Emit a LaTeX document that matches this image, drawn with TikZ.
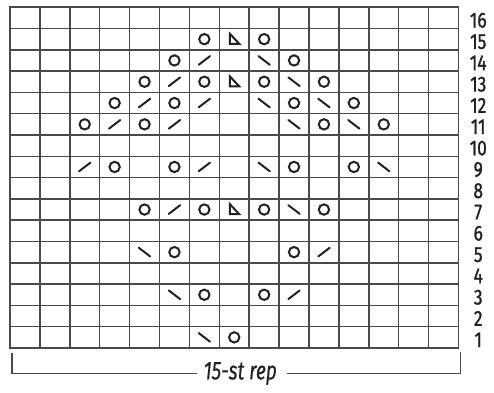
\documentclass[tikz,border=0pt]{standalone}
\usepackage{fontspec}
\newfontfamily\chartfont{Fira Sans}[FakeStretch=0.8,FakeBold=1.2]
\newfontfamily\repfont{Fira Sans}[FakeStretch=0.74,FakeBold=0.4]
\usetikzlibrary{positioning}

\definecolor{gridgray}{HTML}{4A4A4A}
\definecolor{inkblack}{HTML}{222222}

\tikzset{
  gridline/.style={gridgray,line width=0.045cm},
  symbol/.style={inkblack,line width=0.06cm,line cap=round},
  rowlabel/.style={font=\chartfont\fontsize{18.5}{18.5}\selectfont,inner sep=0pt,
    text height=13pt,text depth=0pt,text=inkblack},
  replabel/.style={font=\repfont\itshape\fontsize{22}{22}\selectfont,inner sep=0pt,text=inkblack},
  yo/.pic={\draw[symbol] (0,0) circle[radius=0.155cm];},
  ktog/.pic={\draw[symbol] (-0.17cm,-0.13cm) -- (0.17cm,0.13cm);},
  ssk/.pic={\draw[symbol] (-0.17cm,0.13cm) -- (0.17cm,-0.13cm);},
  sktwop/.pic={\draw[symbol,line join=miter] (-0.13cm,0.16cm) -- (-0.13cm,-0.14cm) -- (0.15cm,-0.14cm) -- cycle;}
}

\begin{document}
\begin{tikzpicture}[x=0.897cm,y=0.639cm]
\useasboundingbox (-0.334,-2.066) rectangle (16.187,16.338);

% chart grid
\foreach \c in {1,...,14} \draw[gridline] (\c,0) -- (\c,16);
\foreach \r in {1,...,15} \draw[gridline] (0,\r) -- (15,\r);
\draw[gridline] (0,0) rectangle (15,16);

% row numbers
\foreach \r in {1,...,16}
  \node[rowlabel] (row\r) at (15.66,\r-0.6) {\r};

% yarn overs
\foreach \c/\r in {7/15,9/15, 6/14,10/14, 5/13,7/13,9/13,11/13,
                   4/12,6/12,10/12,12/12, 3/11,5/11,11/11,13/11,
                   4/9,6/9,10/9,12/9, 5/7,7/7,9/7,11/7,
                   6/5,10/5, 7/3,9/3, 8/1}
  \pic at (\c-0.5,\r-0.5) {yo};

% right-leaning decreases
\foreach \c/\r in {7/14, 6/13, 5/12,7/12, 4/11,6/11, 3/9,7/9, 6/7, 11/5, 10/3}
  \pic at (\c-0.5,\r-0.5) {ktog};

% left-leaning decreases
\foreach \c/\r in {9/14, 10/13, 9/12,11/12, 10/11,12/11, 9/9,13/9, 10/7, 5/5, 6/3, 7/1}
  \pic at (\c-0.5,\r-0.5) {ssk};

% double decreases
\foreach \r in {15,13,7}
  \pic at (7.5,\r-0.5) {sktwop};

% repeat bracket
\node[replabel] (rep) at (7.7,-1.2) {15-st rep};
\coordinate (bl) at (0.07,-0.25);
\coordinate (br) at (15.07,-0.2);
\draw[gridline,line width=0.04cm] (bl) |- ([xshift=-0.2cm]rep.west);
\draw[gridline,line width=0.04cm] (br) |- ([xshift=0.3cm]rep.east);
\end{tikzpicture}
\end{document}
